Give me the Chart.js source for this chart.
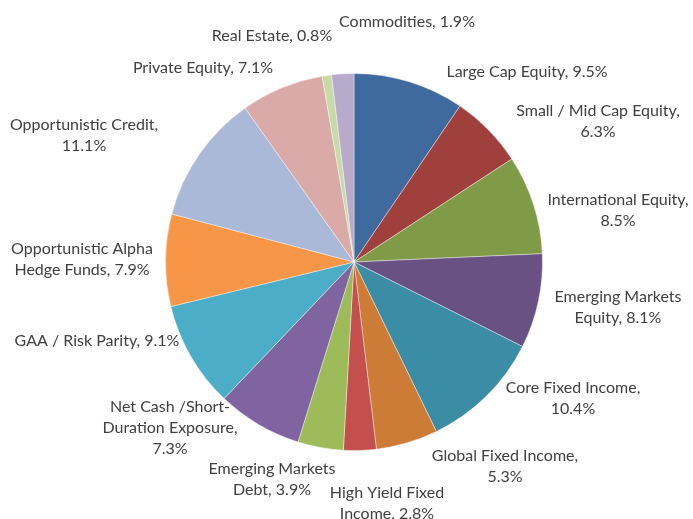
<!DOCTYPE html>
<html lang="en">
<head>
    <meta charset="UTF-8">
    <title>Asset Allocation</title>
    <script src="https://cdn.jsdelivr.net/npm/chart.js"></script>
    <style>
        body {
            margin: 0;
            padding: 0;
            background: white;
        }
        #wrap {
            width: 693px;
            height: 519px;
        }
    </style>
</head>
<body>
    <div id="wrap">
        <canvas id="pieChart" width="693" height="519"></canvas>
    </div>

    <script>
        const categories = [
            'Large Cap Equity', 'Small / Mid Cap Equity', 'International Equity',
            'Emerging Markets Equity', 'Core Fixed Income', 'Global Fixed Income',
            'High Yield Fixed Income', 'Emerging Markets Debt', 'Net Cash /Short-Duration Exposure',
            'GAA / Risk Parity', 'Opportunistic Alpha Hedge Funds', 'Opportunistic Credit',
            'Private Equity', 'Real Estate', 'Commodities'
        ];
        const weights = [9.5, 6.3, 8.5, 8.1, 10.4, 5.3, 2.8, 3.9, 7.3, 9.1, 7.9, 11.1, 7.1, 0.8, 1.9];

        // how each label wraps in the picture
        const labelLines = [
            ['Large Cap Equity, 9.5%'],
            ['Small / Mid Cap Equity,', '6.3%'],
            ['International Equity,', '8.5%'],
            ['Emerging Markets', 'Equity, 8.1%'],
            ['Core Fixed Income,', '10.4%'],
            ['Global Fixed Income,', '5.3%'],
            ['High Yield Fixed', 'Income, 2.8%'],
            ['Emerging Markets', 'Debt, 3.9%'],
            ['Net Cash /Short-', 'Duration Exposure,', '7.3%'],
            ['GAA / Risk Parity, 9.1%'],
            ['Opportunistic Alpha', 'Hedge Funds, 7.9%'],
            ['Opportunistic Credit,', '11.1%'],
            ['Private Equity, 7.1%'],
            ['Real Estate, 0.8%'],
            ['Commodities, 1.9%']
        ];

        const colors = [
            '#3F6A9E', '#9F403D', '#7F9B47', '#6A5184', '#3A8DA4',
            '#CD7C37', '#C4504D', '#9DBB59', '#8064A2', '#4BADC7',
            '#F79646', '#AAB9D7', '#D9AAA8', '#C9DAA9', '#B8AACA'
        ];

        // label block centres (layout only)
        const labelCenters = [
            [527, 72], [598, 121], [618, 210], [618, 307], [573, 398],
            [505, 466], [387, 503], [272, 479], [170, 428], [97, 341],
            [82, 259], [84, 135], [203, 68], [272, 36], [407, 22]
        ];

        const outsideLabels = {
            id: 'outsideLabels',
            afterDraw(chart) {
                const ctx = chart.ctx;
                ctx.save();
                ctx.font = '16px Lato, "Open Sans", sans-serif';
                ctx.fillStyle = '#404040';
                ctx.textAlign = 'center';
                ctx.textBaseline = 'middle';
                labelLines.forEach((lines, i) => {
                    const [cx, cy] = labelCenters[i];
                    const lh = 21;
                    const top = cy - (lines.length - 1) * lh / 2;
                    lines.forEach((t, j) => ctx.fillText(t, cx, top + j * lh));
                });
                ctx.restore();
            }
        };

        new Chart(document.getElementById('pieChart').getContext('2d'), {
            type: 'pie',
            data: {
                labels: categories,
                datasets: [{
                    data: weights,
                    backgroundColor: colors,
                    borderColor: 'rgba(255,255,255,0.4)',
                    borderWidth: 1
                }]
            },
            options: {
                responsive: false,
                animation: false,
                layout: {
                    padding: { left: 100, right: 85, top: 73, bottom: 68 }
                },
                plugins: {
                    legend: { display: false },
                    tooltip: { enabled: false }
                }
            },
            plugins: [outsideLabels]
        });
    </script>
</body>
</html>
